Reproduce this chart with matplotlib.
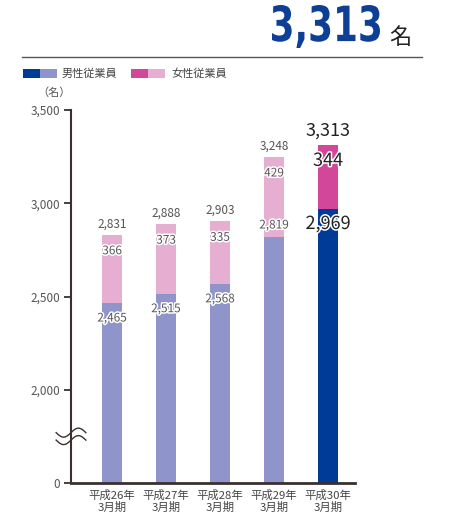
import numpy as np
import matplotlib
matplotlib.use("Agg")
import matplotlib.pyplot as plt
import matplotlib.patheffects as pe
from matplotlib.textpath import TextPath
from matplotlib.patches import PathPatch, Rectangle
from matplotlib.transforms import Affine2D
from matplotlib.font_manager import FontProperties

plt.rcParams['font.family'] = ['Noto Sans CJK JP', 'DejaVu Sans']

# 従業員数（名）
periods = ['平成26年\n3月期', '平成27年\n3月期', '平成28年\n3月期', '平成29年\n3月期', '平成30年\n3月期']
male = [2465, 2515, 2568, 2819, 2969]
female = [366, 373, 335, 429, 344]
totals = [2831, 2888, 2903, 3248, 3313]
ytick_values = [0, 2000, 2500, 3000, 3500]
headline = '3,313'

# 軸は 0〜2,000 を省略して表示
BASE = 1500
def shift(v):
    return max(v - BASE, 0)

male_light, male_dark = '#8f95cb', '#003c97'
female_light, female_dark = '#e6aed0', '#d3479b'
# 男性ラベルの上下位置（ピクセル）
male_label_dy = [-15, -15, -15, 12, -15]

fig = plt.figure(figsize=(4.55, 5.17), dpi=100)
ax = fig.add_axes([71 / 455, 1 - 483 / 517, 284 / 455, 373 / 517])

x = np.arange(len(periods))
mb = [shift(m) for m in male]
mcol = [male_light] * 4 + [male_dark]
fcol = [female_light] * 4 + [female_dark]
ax.bar(x, mb, width=0.37, color=mcol, zorder=2)
ax.bar(x, female, width=0.37, bottom=mb, color=fcol, zorder=2)

halo = [pe.withStroke(linewidth=2.2, foreground='white')]
for i in range(len(x)):
    last = i == len(x) - 1
    fs = 13 if last else 8.5
    col = '#222222' if last else '#555555'
    top = shift(totals[i])
    ax.annotate(f'{totals[i]:,}', (x[i], top), xytext=(0, 14 if last else 11),
                textcoords='offset pixels', ha='center', va='center',
                fontsize=fs, color=col)
    ax.annotate(f'{female[i]:,}', (x[i], top), xytext=(0, -16),
                textcoords='offset pixels', ha='center', va='center',
                fontsize=fs, color=col, path_effects=halo, zorder=4)
    ax.annotate(f'{male[i]:,}', (x[i], mb[i]), xytext=(0, male_label_dy[i]),
                textcoords='offset pixels', ha='center', va='center',
                fontsize=fs, color=col, path_effects=halo, zorder=4)

ax.set_xlim(-0.76, 4.5)
ax.set_ylim(0, 2000)
ax.set_yticks([shift(v) for v in ytick_values])
ax.set_yticklabels([f'{v:,}' for v in ytick_values], fontsize=8.5, color='#555555')
ax.set_xticks(x)
ax.set_xticklabels(periods, fontsize=8.2, color='#444444', linespacing=1.1)
ax.tick_params(axis='x', length=0, pad=5)
ax.tick_params(axis='y', length=5, width=1.3, color='#3a3030', pad=3)
for s in ['top', 'right']:
    ax.spines[s].set_visible(False)
ax.spines['left'].set_color('#3a3030')
ax.spines['left'].set_linewidth(1.5)
ax.spines['bottom'].set_color('#3a3030')
ax.spines['bottom'].set_linewidth(2)

# 省略記号（波線）
t = np.linspace(0, 1, 60)
for dy in (0.0, -0.02):
    ax.plot(-0.76 + (t - 0.5) * 0.55, 0.135 + dy + 0.012 * np.sin(t * 2 * np.pi + np.pi),
            transform=ax.get_xaxis_transform(), color='#3a3030', lw=1,
            clip_on=False, zorder=5)

# 見出しと凡例（ピクセル座標）
ov = fig.add_axes([0, 0, 1, 1], facecolor='none')
ov.set_xlim(0, 455)
ov.set_ylim(517, 0)
ov.axis('off')

tp = TextPath((0, 0), headline, size=100, prop=FontProperties(family='DejaVu Sans', weight='bold'))
bb = tp.get_extents()
sx = 108 / bb.width
sy = 43 / bb.height
tr = Affine2D().translate(-bb.x0, -bb.y0).scale(sx, -sy).translate(272, 48)
ov.add_patch(PathPatch(tr.transform_path(tp), color='#0d3f97', lw=0))
ov.text(400, 37, '名', fontsize=16, color='#222222', ha='center', va='center')
ov.plot([22, 422], [57, 57], color='#555555', lw=1)

for x0, c in [(23, male_dark), (40, male_light), (131, female_dark), (148, female_light)]:
    ov.add_patch(Rectangle((x0, 69), 17, 9, color=c, lw=0))
ov.text(62, 73.5, '男性従業員', fontsize=8, color='#444444', va='center')
ov.text(171, 73.5, '女性従業員', fontsize=8, color='#444444', va='center')
ov.text(54, 93, '（名）', fontsize=8, color='#555555', ha='center', va='center')

fig.savefig('out.png', dpi=100)
